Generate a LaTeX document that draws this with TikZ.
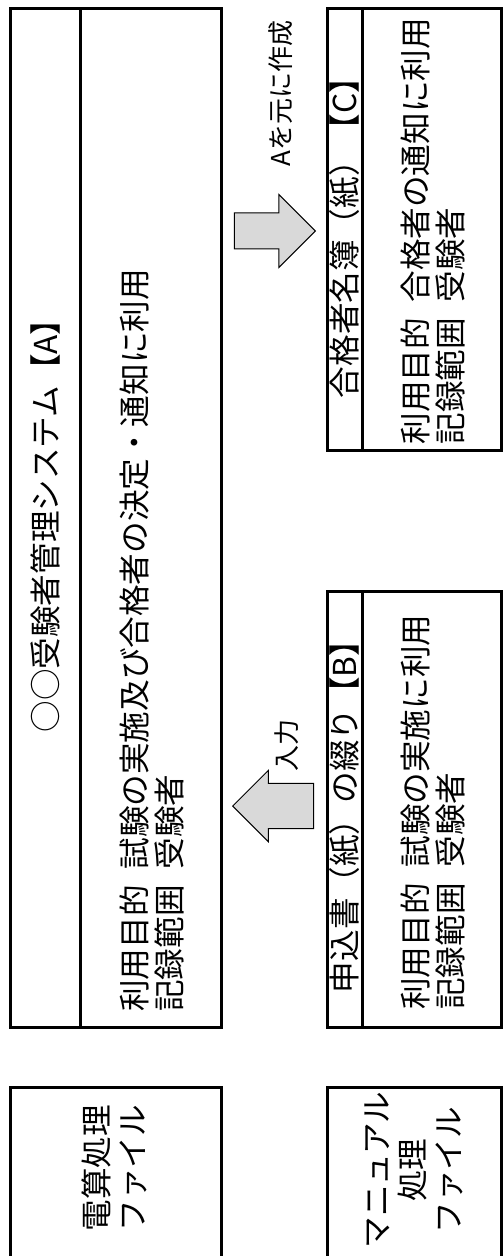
\documentclass[tikz,border=0pt]{standalone}
\usepackage{fontspec}
\setmainfont{Noto Sans CJK JP}
\usetikzlibrary{shapes.arrows}

\begin{document}
\begin{tikzpicture}[x=0.5pt, y=-0.5pt,
    frame/.style={line width=1.5pt},
    headtext/.style={rotate=90, inner sep=0pt,
      font=\fontsize{15.8pt}{17.5pt}\selectfont},
    bodytext/.style={rotate=90, inner sep=0pt, align=left, anchor=west,
      font=\fontsize{15.8pt}{17.5pt}\selectfont},
    filetext/.style={rotate=90, inner sep=0pt, align=center,
      font=\fontsize{15.8pt}{18pt}\selectfont},
    notetext/.style={rotate=90, inner sep=0pt, anchor=west,
      font=\fontsize{13pt}{15pt}\selectfont},
    blockarrow/.style={single arrow, draw=black, line width=0.5pt,
      fill=gray!30, inner xsep=0pt, minimum height=40.5pt, anchor=tip}]

    % Page area
    \useasboundingbox (0,0) rectangle (503,1256);
    \clip (0,0) rectangle (503,1256);

    % Corners of the boxes
    \coordinate (A1) at (10,9);
    \coordinate (A2) at (221,1027);
    \coordinate (C1) at (327,9);
    \coordinate (C2) at (501,450);
    \coordinate (B1) at (327,591);
    \coordinate (B2) at (501,1027);
    \coordinate (D1) at (10,1087);
    \coordinate (D2) at (221,1270);
    \coordinate (M1) at (327,1087);
    \coordinate (M2) at (501,1270);

    % Draw the boxes and the title strips
    \draw[frame] (A1) rectangle (A2);
    \draw[frame] (80,9) -- (80,1027);
    \draw[frame] (C1) rectangle (C2);
    \draw[frame] (362,9) -- (362,450);
    \draw[frame] (B1) rectangle (B2);
    \draw[frame] (362,591) -- (362,1027);
    \draw[frame] (D1) rectangle (D2);
    \draw[frame] (M1) rectangle (M2);

    % Titles and contents
    \node[headtext] (titleA) at (45,518) {○○受験者管理システム【A】};
    \node[bodytext] (useA) at (151.5,1012) {利用目的\hspace{.5em}試験の実施及び合格者の決定・通知に利用\\記録範囲\hspace{.5em}受験者};
    \node[headtext] (titleC) at (344.5,230) {合格者名簿（紙）【C】};
    \node[bodytext] (useC) at (432.5,445) {利用目的\hspace{.5em}合格者の通知に利用\\記録範囲\hspace{.5em}受験者};
    \node[headtext] (titleB) at (344.5,809) {申込書（紙）の綴り【B】};
    \node[bodytext] (useB) at (432.5,1010) {利用目的\hspace{.5em}試験の実施に利用\\記録範囲\hspace{.5em}受験者};

    % File kinds
    \node[filetext] (den) at (114,1168) {電算処理\\ファイル};
    \node[filetext] (man) at (414,1170) {マニュアル\\処理\\ファイル};

    % Block arrows with their labels
    \node[blockarrow, inner ysep=8.75pt, single arrow head extend=9.25pt] (toC) at (316,231) {};
    \node[blockarrow, inner ysep=11.1pt, single arrow head extend=6.5pt, shape border rotate=180] (toA) at (232,806) {};
    \node[notetext] (makeC) at (281,167) {Aを元に作成};
    \node[notetext] (input) at (287,772) {入力};

\end{tikzpicture}
\end{document}
